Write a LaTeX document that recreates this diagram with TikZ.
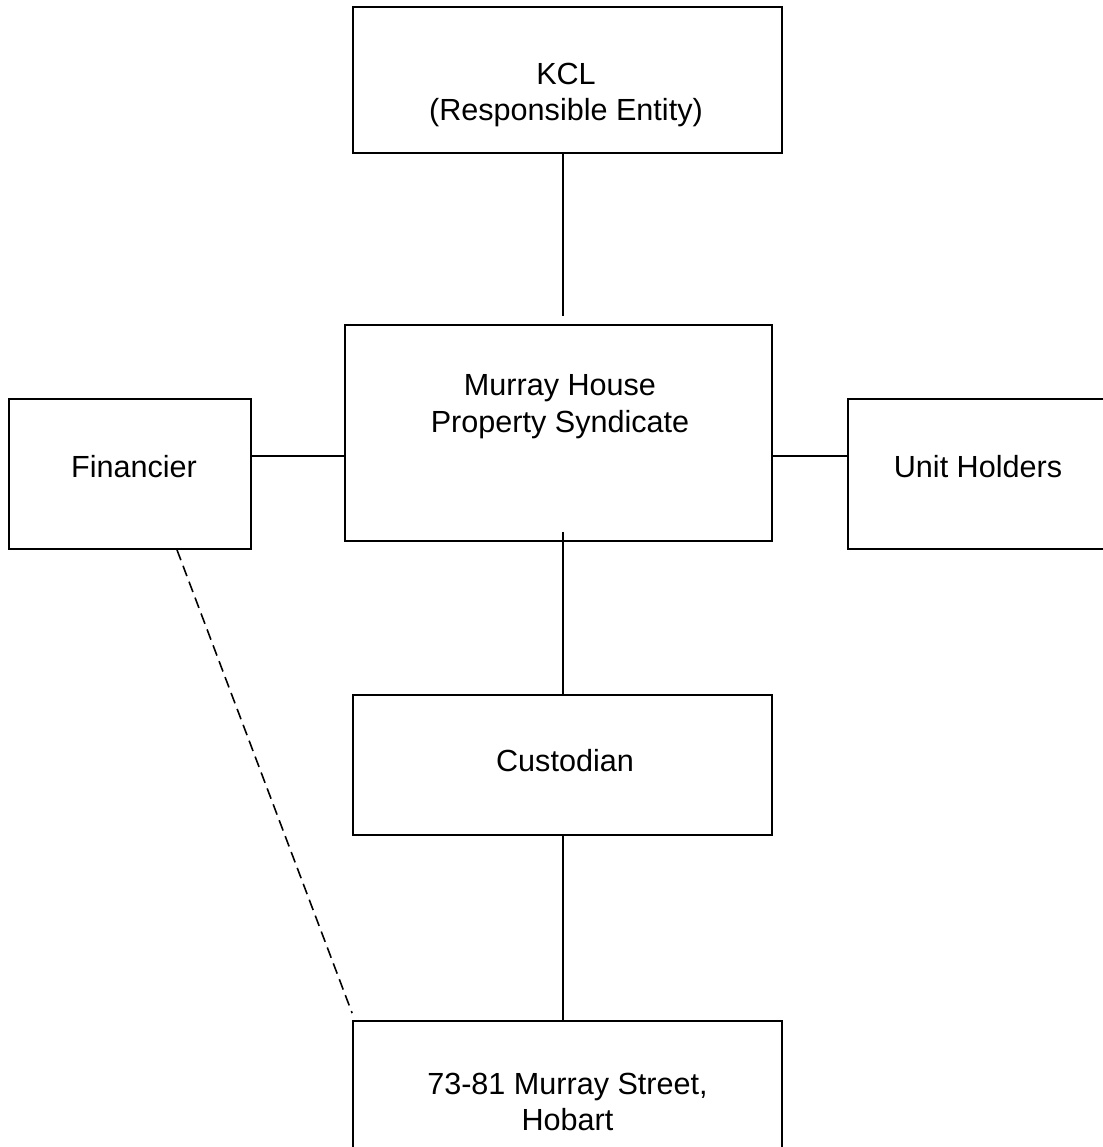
\documentclass[tikz,border=0pt]{standalone}
\usepackage{fontspec}
\setmainfont{Liberation Sans}
\usetikzlibrary{calc}

\tikzset{
  box/.style={draw=black, line width=1pt, inner sep=0pt},
  txt/.style={align=center, font=\fontsize{17.4}{21}\selectfont},
  link/.style={draw=black, line width=1pt},
  dashline/.style={draw=black, line width=0.9pt, dash pattern=on 2.2mm off 1.2mm}
}

\begin{document}
\begin{tikzpicture}[x=0.2mm,y=-0.2mm]

    \clip (0,0) rectangle (1103,1147);

    %cajas
    \node[box, minimum width=85.8mm, minimum height=29.2mm] (kcl) at (567.5,80) {};
    \node[box, minimum width=85.4mm, minimum height=43.2mm] (murray) at (558.5,433) {};
    \node[box, minimum width=48.4mm, minimum height=30mm] (fin) at (130,474) {};
    \node[box, minimum width=52mm, minimum height=30mm] (unit) at (978,474) {};
    \node[box, minimum width=83.8mm, minimum height=28mm] (cust) at (562.5,765) {};
    \node[box, minimum width=85.8mm, minimum height=32.4mm] (street) at (567.5,1102) {};

    %textos
    \node[txt] (kcltxt) at (566,95) {KCL\\(Responsible Entity)};
    \node[txt] (murraytxt) at (560,407) {Murray House\\Property Syndicate};
    \node[txt] (fintxt) at (134,467) {Financier};
    \node[txt] (unittxt) at (978,467) {Unit Holders};
    \node[txt] (custtxt) at (565,761) {Custodian};
    \node[txt] (streettxt) at (567.5,1102) {73-81 Murray Street,\\Hobart};

    \coordinate (trunk) at (563,0);
    \coordinate (row) at (0,456);
    \coordinate (dashx) at (177,0);

    %lineas verticales
    \draw[link] (kcl.south -| trunk) -- ($(murray.north -| trunk)+(0,-8)$);
    \draw[link] ($(murray.south -| trunk)+(0,-10)$) -- (cust.north -| trunk);
    \draw[link] (cust.south -| trunk) -- (street.north -| trunk);

    %lineas horizontales
    \draw[link] (fin.east |- row) -- (murray.west |- row);
    \draw[link] (murray.east |- row) -- (unit.west |- row);

    %financier a la propiedad
    \draw[dashline] (fin.south -| dashx) -- ($(street.north west)+(0,-7)$);

\end{tikzpicture}
\end{document}
